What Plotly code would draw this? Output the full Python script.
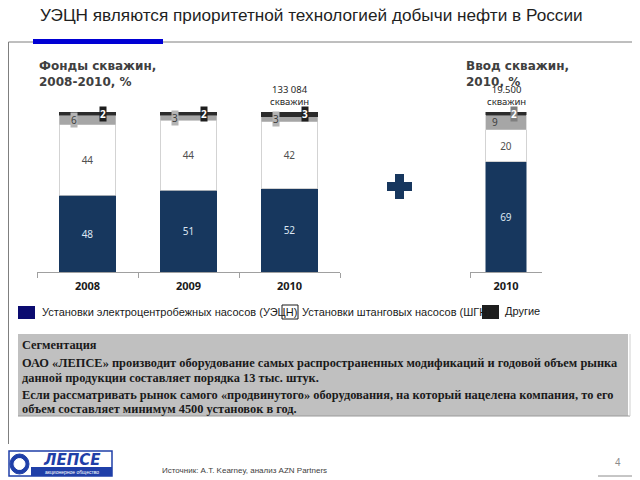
import plotly.graph_objects as go

W, H = 640, 480
OFF = 8  # page body margin in the browser


def px(x):
    return (x - OFF) / W


def py(y):
    return 1 - (y - OFF) / H


# ---------------- data ----------------
years = ["2008", "2009", "2010"]
uecn = [48, 51, 52]
shgn = [44, 44, 42]
grey_part = [6, 3, 3]
other = [2, 2, 3]
fond_total = "133 084<br>скважин"

vvod_years = ["2010"]
vvod_uecn = [69]
vvod_shgn = [20]
vvod_grey = [9]
vvod_other = [2]
vvod_total = "19.500<br>скважин"

title = "УЭЦН являются приоритетной технологией добычи нефти в России"
sub_left = "Фонды скважин,<br>2008-2010, %"
sub_right = "Ввод скважин,<br>2010, %"
legend_names = ["Установки электроцентробежных насосов (УЭЦН)",
                "Установки штанговых насосов (ШГН)", "Другие"]
box_lines = [
    "Сегментация",
    "ОАО «ЛЕПСЕ» производит оборудование самых распространенных модификаций и годовой объем рынка",
    "данной продукции составляет порядка 13 тыс. штук.",
    "Если рассматривать рынок самого «продвинутого» оборудования, на который нацелена компания, то его",
    "объем составляет минимум 4500 установок в год.",
]
source = "Источник: A.T. Kearney, анализ AZN Partners"
page_no = "4"

BLUE = "#17375E"
GREY = "#A6A6A6"
DARK = "#2B2B2B"
LBL = "Noto Sans"

fig = go.Figure()


def add_stack(xs, a, b, c, d, xa, ya):
    fig.add_bar(x=xs, y=a, marker=dict(color=BLUE, line=dict(color=BLUE, width=0.5)),
                text=[str(v) for v in a], textposition="inside", insidetextanchor="middle",
                textangle=0, constraintext="none",
                textfont=dict(family=LBL, size=10, color="#DCE6F2"),
                xaxis=xa, yaxis=ya, hoverinfo="skip")
    fig.add_bar(x=xs, y=b, marker=dict(color="#FFFFFF", line=dict(color="#C8C8C8", width=0.8)),
                text=[str(v) for v in b], textposition="inside", insidetextanchor="middle",
                textangle=0, constraintext="none",
                textfont=dict(family=LBL, size=10, color="#505050"),
                xaxis=xa, yaxis=ya, hoverinfo="skip")
    fig.add_bar(x=xs, y=c, marker=dict(color=GREY, line=dict(color="#C8C8C8", width=0.6)),
                xaxis=xa, yaxis=ya, hoverinfo="skip")
    fig.add_bar(x=xs, y=d, marker=dict(color=DARK, line=dict(color=DARK, width=0.5)),
                xaxis=xa, yaxis=ya, hoverinfo="skip")


add_stack(years, uecn, shgn, grey_part, other, "x", "y")
add_stack(vvod_years, vvod_uecn, vvod_shgn, vvod_grey, vvod_other, "x2", "y2")

ann = []


def small_labels(xs, a, b, c, d, xr, yr, gshift, dshift, gbox=True):
    # category axes: annotation x given as category serial number
    for i in range(len(xs)):
        base = a[i] + b[i]
        ann.append(dict(x=i, y=base + c[i] / 2, xref=xr, yref=yr, text=str(c[i]),
                        showarrow=False, xshift=gshift,
                        font=dict(family=LBL, size=10, color="#404040"),
                        bgcolor="#B4B4B4" if gbox else None, borderpad=0))
        ann.append(dict(x=i, y=base + c[i] + d[i] / 2, xref=xr, yref=yr, text=str(d[i]),
                        showarrow=False, xshift=dshift,
                        font=dict(family=LBL, size=10, color="#FFFFFF", weight=700),
                        bgcolor="#1E1E1E" if gbox else "#7F7F7F", borderpad=0))


small_labels(years, uecn, shgn, grey_part, other, "x", "y", -14, 15)
small_labels(vvod_years, vvod_uecn, vvod_shgn, vvod_grey, vvod_other, "x2", "y2", -11, 8, gbox=False)

# totals above the bars
ann.append(dict(x=len(years) - 1, y=100, xref="x", yref="y", yanchor="bottom", yshift=2,
                text=fond_total, showarrow=False,
                font=dict(family=LBL, size=9.5, color="#262626")))
ann.append(dict(x=0, y=100, xref="x2", yref="y2", yanchor="bottom", yshift=2,
                text=vvod_total, showarrow=False,
                font=dict(family=LBL, size=9.5, color="#262626")))

# title & subtitles
ann.append(dict(x=px(38), y=py(15), xref="paper", yref="paper", xanchor="left", yanchor="middle",
                text=title, showarrow=False,
                font=dict(family="Liberation Sans", size=17.2, color="#1F1F1F")))
ann.append(dict(x=px(37), y=py(57), xref="paper", yref="paper", xanchor="left", yanchor="top",
                text=sub_left, showarrow=False, align="left",
                font=dict(family="DejaVu Sans", size=12, color="#404040", weight=700)))
ann.append(dict(x=px(464), y=py(57), xref="paper", yref="paper", xanchor="left", yanchor="top",
                text=sub_right, showarrow=False, align="left",
                font=dict(family="DejaVu Sans", size=12, color="#404040", weight=700)))

# legend (custom)
leg_y = 312
ann.append(dict(x=px(40), y=py(leg_y), xref="paper", yref="paper", xanchor="left", yanchor="middle",
                text=legend_names[0], showarrow=False,
                font=dict(family="Liberation Sans", size=11, color="#1A1A1A")))
ann.append(dict(x=px(300), y=py(leg_y), xref="paper", yref="paper", xanchor="left", yanchor="middle",
                text=legend_names[1], showarrow=False,
                font=dict(family="Liberation Sans", size=11, color="#1A1A1A")))
ann.append(dict(x=px(503), y=py(leg_y - 1), xref="paper", yref="paper", xanchor="left", yanchor="middle",
                text=legend_names[2], showarrow=False,
                font=dict(family="Liberation Sans", size=11, color="#1A1A1A")))

# grey text box lines
box_y = [345, 363, 378, 395, 409]
for t, yy in zip(box_lines, box_y):
    ann.append(dict(x=px(20), y=py(yy), xref="paper", yref="paper", xanchor="left", yanchor="middle",
                    text=t, showarrow=False,
                    font=dict(family="Liberation Serif", size=12.4, color="#1A1A1A", weight=700)))

# footer
ann.append(dict(x=px(160), y=py(470), xref="paper", yref="paper", xanchor="left", yanchor="middle",
                text=source, showarrow=False,
                font=dict(family="Liberation Sans", size=8, color="#404040")))
ann.append(dict(x=px(618), y=py(462), xref="paper", yref="paper", xanchor="center", yanchor="middle",
                text=page_no, showarrow=False,
                font=dict(family="Liberation Sans", size=10, color="#8C8C8C")))
# logo text
ann.append(dict(x=px(72), y=py(460), xref="paper", yref="paper", xanchor="center", yanchor="middle",
                text="<b><i>ЛЕПСЕ</i></b>", showarrow=False,
                font=dict(family="DejaVu Sans", size=15, color="#1F3FA8")))
ann.append(dict(x=px(72), y=py(471.5), xref="paper", yref="paper", xanchor="center", yanchor="middle",
                text="акционерное общество", showarrow=False,
                font=dict(family="Liberation Sans", size=5, color="#FFFFFF")))

shapes = []


def rect(x0, y0, x1, y1, fill, line=None, lw=0):
    shapes.append(dict(type="rect", xref="paper", yref="paper", x0=px(x0), x1=px(x1),
                       y0=py(y1), y1=py(y0), fillcolor=fill,
                       line=dict(color=line or fill, width=lw), layer="above"))


def line(x0, y0, x1, y1, color, w=1):
    shapes.append(dict(type="line", xref="paper", yref="paper", x0=px(x0), x1=px(x1),
                       y0=py(y0), y1=py(y1), line=dict(color=color, width=w), layer="above"))


# frame lines
line(8.5, 42, 640, 42, "#7F7F7F", 1)
line(8.5, 42, 8.5, 444, "#7F7F7F", 1)
rect(33, 39, 163, 44, "#0000D4")
# plus sign
rect(395, 174, 404, 199, BLUE)
rect(387, 182, 412, 191, BLUE)
# legend squares
rect(18, 306, 35, 319, "#0B0B70")
rect(282, 305, 298, 319, "rgba(255,255,255,0)", "#1A1A1A", 1)
rect(482, 305, 499, 319, "#1E1E1E")
# grey box
shapes.append(dict(type="rect", xref="paper", yref="paper", x0=px(18), x1=px(628),
                   y0=py(416), y1=py(334), fillcolor="#C0C0C0",
                   line=dict(width=0), layer="below"))
line(18, 416, 630, 416, "#9A9A9A", 1)
line(630, 334, 630, 416, "#D0D0D0", 1)
# bottom right bracket
line(633, 449, 633, 476, "#8C8C8C", 1)
line(598, 476, 633, 476, "#8C8C8C", 1)
# logo
shapes.append(dict(type="rect", xref="paper", yref="paper", x0=px(9), x1=px(112),
                   y0=py(476), y1=py(451), fillcolor="#FFFFFF",
                   line=dict(color="#1F3FA8", width=1.5), layer="below"))
rect(31, 467, 112, 476, "#1F3FA8")
shapes.append(dict(type="circle", xref="paper", yref="paper", x0=px(10), x1=px(29),
                   y0=py(474), y1=py(454), fillcolor="#1F3FA8",
                   line=dict(color="#1F3FA8", width=1), layer="above"))
shapes.append(dict(type="circle", xref="paper", yref="paper", x0=px(14), x1=px(25),
                   y0=py(469.5), y1=py(458.5), fillcolor="#FFFFFF",
                   line=dict(color="#FFFFFF", width=1), layer="above"))

axis_common = dict(type="category", showline=True, linecolor="#A0A0A0", linewidth=1, ticks="outside",
                   tickson="boundaries", ticklen=5, tickcolor="#A0A0A0", showgrid=False,
                   ticklabelstandoff=4,
                   tickfont=dict(family=LBL, size=11, color="#1A1A1A", weight=700),
                   fixedrange=True)
yaxis_common = dict(range=[0, 100], visible=False, showgrid=False, zeroline=False, fixedrange=True)

fig.update_layout(
    width=W, height=H, margin=dict(l=0, r=0, t=0, b=0),
    paper_bgcolor="#FFFFFF", plot_bgcolor="rgba(0,0,0,0)",
    barmode="stack", bargap=0.44, showlegend=False,
    xaxis=dict(domain=[px(37), px(340)], anchor="y", **axis_common),
    yaxis=dict(domain=[py(272), py(112)], anchor="x", **yaxis_common),
    xaxis2=dict(domain=[px(470), px(542)], anchor="y2", **axis_common),
    yaxis2=dict(domain=[py(272), py(112)], anchor="x2", **yaxis_common),
    annotations=ann, shapes=shapes,
)

fig.write_html("out.html")
